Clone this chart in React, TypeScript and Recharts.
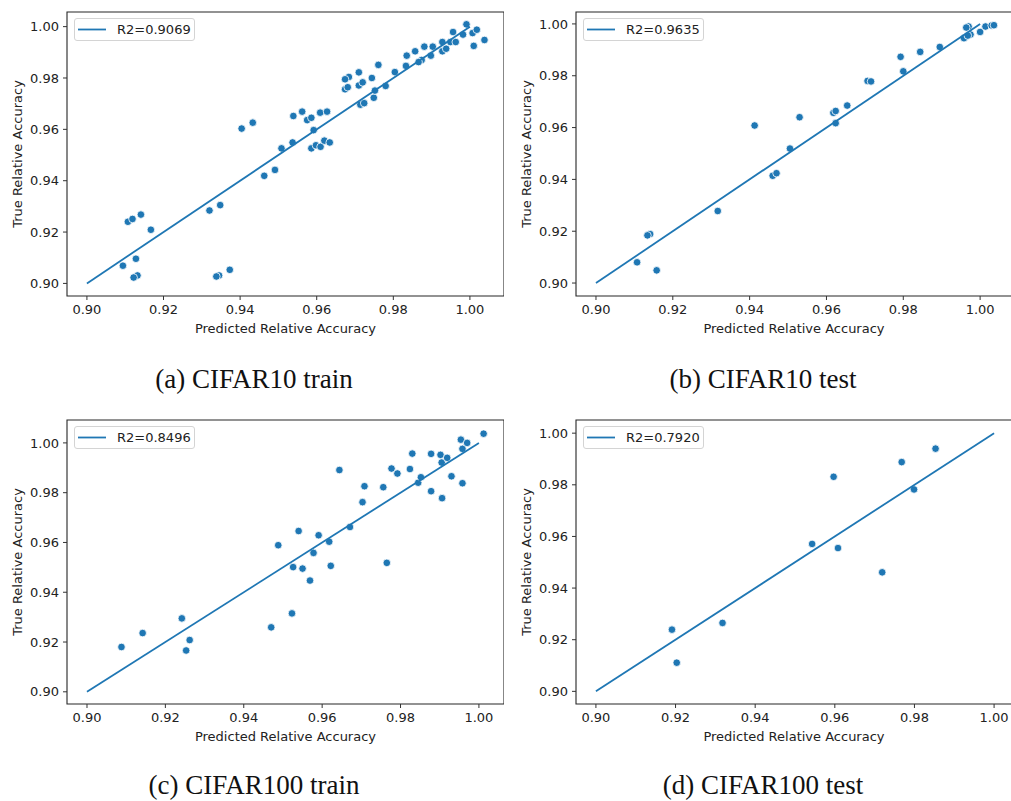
import React from 'react'
import { ScatterChart, Scatter, XAxis, YAxis, ReferenceArea } from 'recharts'

// predicted vs true relative accuracy
const predA = [0.9094, 0.9128, 0.9132, 0.9122, 0.9107, 0.9119, 0.9141, 0.9167, 0.9320, 0.9348, 0.9345, 0.9338, 0.9373,
  0.9404, 0.9433, 0.9463, 0.9491, 0.9508, 0.9537, 0.9539, 0.9562, 0.9575, 0.9586, 0.9592, 0.9586, 0.9598, 0.9610,
  0.9620, 0.9634, 0.9609, 0.9627, 0.9674, 0.9684, 0.9674, 0.9681, 0.9710, 0.9710, 0.9720, 0.9714, 0.9724, 0.9744,
  0.9749, 0.9752, 0.9761, 0.9780, 0.9804, 0.9833, 0.9835, 0.9857, 0.9874, 0.9866, 0.9881, 0.9898, 0.9903, 0.9928,
  0.9928, 0.9938, 0.9949, 0.9956, 0.9963, 0.9982, 0.9991, 1.0007, 1.0018, 1.0010, 1.0038]
const trueA = [0.9069, 0.9096, 0.9031, 0.9023, 0.9240, 0.9251, 0.9268, 0.9209, 0.9284, 0.9305, 0.9031, 0.9027, 0.9053,
  0.9603, 0.9626, 0.9419, 0.9442, 0.9526, 0.9549, 0.9652, 0.9669, 0.9636, 0.9645, 0.9597, 0.9526, 0.9538, 0.9532,
  0.9556, 0.9549, 0.9665, 0.9669, 0.9756, 0.9804, 0.9795, 0.9764, 0.9822, 0.9771, 0.9783, 0.9696, 0.9702, 0.9800,
  0.9723, 0.9751, 0.9851, 0.9769, 0.9823, 0.9847, 0.9887, 0.9904, 0.9870, 0.9862, 0.9922, 0.9887, 0.9922, 0.9940,
  0.9904, 0.9914, 0.9940, 0.9979, 0.9940, 0.9969, 1.0009, 0.9975, 0.9988, 0.9925, 0.9948]

const predB = [0.9107, 0.9158, 0.9141, 0.9134, 0.9317, 0.9413, 0.9460, 0.9470, 0.9505, 0.9530, 0.9618, 0.9624, 0.9624,
  0.9654, 0.9707, 0.9716, 0.9793, 0.9800, 0.9844, 0.9895, 0.9958, 0.9970, 0.9964, 0.9975, 0.9968, 1.0000, 1.0014,
  1.0030, 1.0036]
const trueB = [0.9080, 0.9049, 0.9189, 0.9184, 0.9278, 0.9608, 0.9414, 0.9424, 0.9519, 0.9640, 0.9657, 0.9664, 0.9617,
  0.9685, 0.9780, 0.9778, 0.9873, 0.9817, 0.9892, 0.9911, 0.9945, 0.9990, 0.9986, 0.9959, 0.9955, 0.9969, 0.9990,
  0.9994, 0.9995]

const predC = [0.9088, 0.9142, 0.9242, 0.9253, 0.9262, 0.9470, 0.9523, 0.9488, 0.9526, 0.9540, 0.9550, 0.9569, 0.9578,
  0.9591, 0.9618, 0.9622, 0.9644, 0.9671, 0.9703, 0.9708, 0.9756, 0.9765, 0.9777, 0.9792, 0.9824, 0.9830, 0.9845,
  0.9852, 0.9878, 0.9878, 0.9902, 0.9905, 0.9906, 0.9919, 0.9930, 0.9954, 0.9958, 0.9958, 0.9970, 1.0012]
const trueC = [0.9180, 0.9236, 0.9295, 0.9166, 0.9208, 0.9259, 0.9315, 0.9589, 0.9501, 0.9646, 0.9495, 0.9447, 0.9558,
  0.9629, 0.9603, 0.9506, 0.9891, 0.9662, 0.9762, 0.9826, 0.9822, 0.9518, 0.9897, 0.9877, 0.9895, 0.9957, 0.9840,
  0.9862, 0.9956, 0.9806, 0.9952, 0.9921, 0.9778, 0.9940, 0.9866, 1.0013, 0.9976, 0.9838, 1.0000, 1.0037]

const predD = [0.9191, 0.9203, 0.9318, 0.9543, 0.9597, 0.9608, 0.9719, 0.9768, 0.9799, 0.9853]
const trueD = [0.9239, 0.9111, 0.9265, 0.9571, 0.9831, 0.9555, 0.9461, 0.9888, 0.9782, 0.9940]

const fitX = [0.9, 1.0]
const ticks = [0.9, 0.92, 0.94, 0.96, 0.98, 1.0]
const r2Labels = ['R2=0.9069', 'R2=0.9635', 'R2=0.8496', 'R2=0.7920']
const captions = ['(a) CIFAR10 train', '(b) CIFAR10 test', '(c) CIFAR100 train', '(d) CIFAR100 test']

const BLUE = '#1f77b4'
const FONT = '"DejaVu Sans", sans-serif'

const toPoints = (xs: number[], ys: number[]) => xs.map((x, i) => ({ x, y: ys[i] }))
const fitLine = fitX.map((v) => ({ x: v, y: v }))

const Dot = (props: any) => (
  <circle cx={props.cx} cy={props.cy} r={3.8} fill={BLUE} stroke="#fff" strokeWidth={0.8} />
)
const NoDot = () => <g />

type PanelProps = {
  left: number
  top: number
  width: number
  xDomain: [number, number]
  yDomain: [number, number]
  data: { x: number; y: number }[]
  r2: string
}

const Panel: React.FC<PanelProps> = ({ left, top, width, xDomain, yDomain, data, r2 }) => {
  const tickStyle = { fontSize: 13, fontFamily: FONT, fill: '#222' }
  return (
    <div style={{ position: 'absolute', left, top, width, height: 337 }}>
      <ScatterChart width={width} height={337} margin={{ top: 12, right: 0, bottom: 0, left: 0 }}>
        <XAxis
          type="number"
          dataKey="x"
          domain={xDomain}
          ticks={ticks}
          allowDataOverflow
          tickFormatter={(v: number) => v.toFixed(2)}
          tick={tickStyle}
          tickSize={4}
          tickMargin={5}
          tickLine={{ stroke: '#333' }}
          axisLine={false}
          height={41}
          label={{ value: 'Predicted Relative Accuracy', position: 'insideBottom', offset: 4, style: { ...tickStyle, textAnchor: 'middle' } }}
        />
        <YAxis
          type="number"
          dataKey="y"
          domain={yDomain}
          ticks={ticks}
          allowDataOverflow
          tickFormatter={(v: number) => v.toFixed(2)}
          tick={tickStyle}
          tickSize={4}
          tickMargin={4}
          tickLine={{ stroke: '#333' }}
          axisLine={false}
          width={67}
          label={{ value: 'True Relative Accuracy', angle: -90, position: 'insideLeft', offset: 17, style: { ...tickStyle, textAnchor: 'middle' } }}
        />
        <ReferenceArea x1={xDomain[0]} x2={xDomain[1]} y1={yDomain[0]} y2={yDomain[1]} fill="none" stroke="#262626" strokeWidth={1.1} ifOverflow="visible" />
        <Scatter data={data} shape={Dot} isAnimationActive={false} />
        <Scatter data={fitLine} line={{ stroke: BLUE, strokeWidth: 1.8 }} shape={NoDot} isAnimationActive={false} />
      </ScatterChart>
      <div
        style={{
          position: 'absolute', left: 74, top: 18, width: 121, height: 23, boxSizing: 'border-box',
          border: '1px solid #d4d4d4', borderRadius: 3, background: 'rgba(255,255,255,0.85)',
          fontFamily: FONT, fontSize: 13, color: '#222', display: 'flex', alignItems: 'center',
        }}
      >
        <svg width={42} height={21} style={{ flex: 'none' }}>
          <line x1={3} y1={10.5} x2={31} y2={10.5} stroke={BLUE} strokeWidth={1.8} />
        </svg>
        <span>{r2}</span>
      </div>
    </div>
  )
}

const Caption: React.FC<{ x: number; y: number; text: string }> = ({ x, y, text }) => (
  <div
    style={{
      position: 'absolute', left: x - 150, top: y, width: 300, textAlign: 'center',
      fontFamily: '"Liberation Serif", "Times New Roman", serif', fontSize: 27, lineHeight: '24px', color: '#111',
    }}
  >
    {text}
  </div>
)

export default function App() {
  return (
    <div style={{ position: 'absolute', left: 0, top: 0, width: 1011, height: 801, overflow: 'hidden', background: '#fff' }}>
      <Panel left={0} top={0} width={504} xDomain={[0.8948, 1.0089]} yDomain={[0.8951, 1.0057]} data={toPoints(predA, trueA)} r2={r2Labels[0]} />
      <Panel left={509} top={0} width={503} xDomain={[0.8948, 1.0083]} yDomain={[0.895, 1.0046]} data={toPoints(predB, trueB)} r2={r2Labels[1]} />
      <Panel left={0} top={408} width={504} xDomain={[0.8949, 1.0064]} yDomain={[0.8951, 1.0092]} data={toPoints(predC, trueC)} r2={r2Labels[2]} />
      <Panel left={509} top={408} width={503} xDomain={[0.895, 1.0045]} yDomain={[0.8951, 1.0051]} data={toPoints(predD, trueD)} r2={r2Labels[3]} />
      <Caption x={254} y={367} text={captions[0]} />
      <Caption x={763} y={367} text={captions[1]} />
      <Caption x={254} y={773} text={captions[2]} />
      <Caption x={763} y={773} text={captions[3]} />
    </div>
  )
}
